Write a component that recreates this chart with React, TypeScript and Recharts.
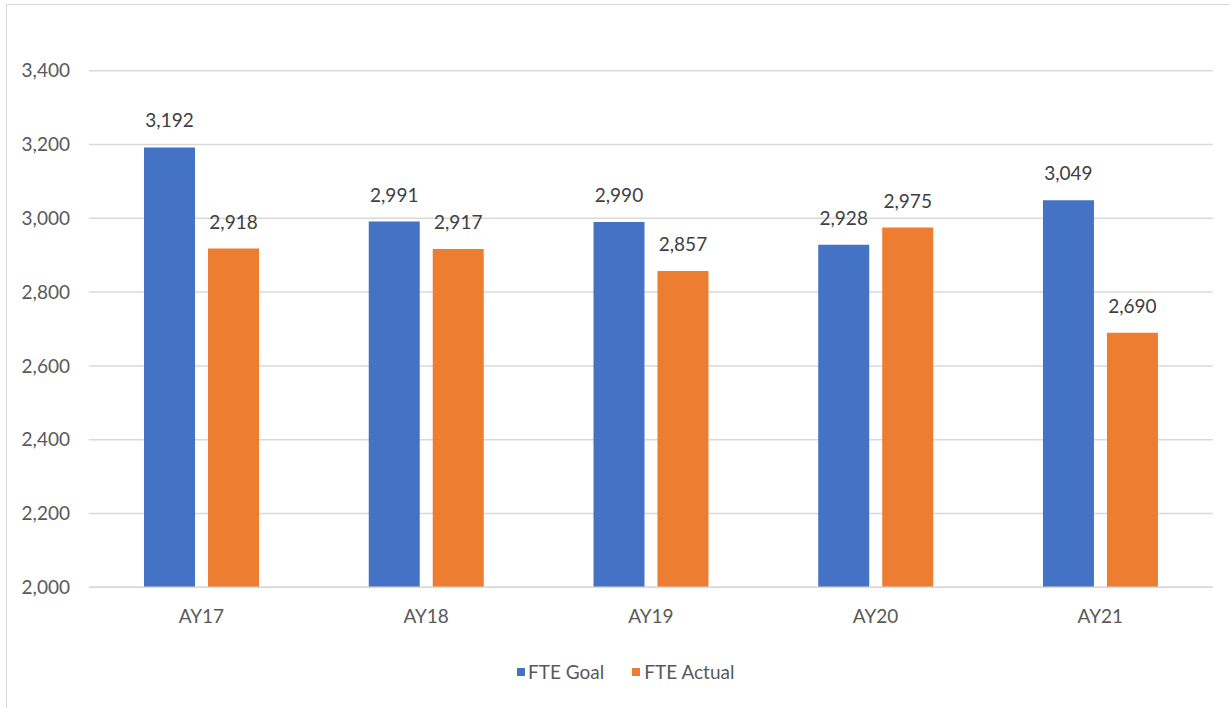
import React from 'react';
import { BarChart, Bar, XAxis, YAxis, CartesianGrid, Legend, LabelList } from 'recharts';

const categories = ['AY17', 'AY18', 'AY19', 'AY20', 'AY21'];
const fteGoal = [3192, 2991, 2990, 2928, 3049];
const fteActual = [2918, 2917, 2857, 2975, 2690];
const yTicks = [2000, 2200, 2400, 2600, 2800, 3000, 3200, 3400];

const data = categories.map((c, i) => ({ name: c, goal: fteGoal[i], actual: fteActual[i] }));

const FONT = 'Lato, "Liberation Sans", sans-serif';
const FS = 19;
const fmt = (v: number) => v.toLocaleString('en-US');

const LegendContent = () => (
  <div style={{ position: 'absolute', left: 517, top: 660, display: 'flex', alignItems: 'center', fontFamily: FONT, fontSize: FS, color: '#595959', whiteSpace: 'nowrap' }}>
    <span style={{ display: 'inline-block', width: 8, height: 8, background: '#4472C4', marginRight: 3 }} />
    <span style={{ marginRight: 28 }}>FTE Goal</span>
    <span style={{ display: 'inline-block', width: 8, height: 8, background: '#ED7D31', marginRight: 4 }} />
    <span>FTE Actual</span>
  </div>
);

export default function App() {
  return (
    <div style={{ position: 'absolute', left: 0, top: 0, width: 1230, height: 708, background: '#fff', overflow: 'hidden' }}>
      <div style={{ position: 'absolute', left: 6, top: 4, width: 1300, height: 800, borderTop: '1.5px solid #d9d9d9', borderLeft: '1.5px solid #d9d9d9' }} />
      <div style={{ position: 'absolute', left: 0, top: 0 }}>
        <BarChart
          width={1230}
          height={708}
          data={data}
          margin={{ top: 70.7, right: 17.3, left: 0, bottom: 90.7 }}
          barCategoryGap={55}
          barGap={13}
        >
          <CartesianGrid vertical={false} stroke="#d9d9d9" strokeWidth={1.5} />
          <XAxis
            dataKey="name"
            height={30}
            axisLine={{ stroke: '#d9d9d9', strokeWidth: 1.5 }}
            tickLine={false}
            tickSize={6}
            tickMargin={16}
            tick={{ fill: '#595959', fontSize: FS, fontFamily: FONT }}
          />
          <YAxis
            width={89}
            domain={[2000, 3400]}
            ticks={yTicks}
            interval={0}
            axisLine={false}
            tickLine={false}
            tickSize={6}
            tickMargin={13}
            tickFormatter={fmt}
            tick={{ fill: '#595959', fontSize: FS, fontFamily: FONT }}
          />
          <Legend verticalAlign="middle" content={<LegendContent />} wrapperStyle={{ top: 0, left: 0, width: 0, height: 0 }} />
          <Bar dataKey="goal" name="FTE Goal" fill="#4472C4" isAnimationActive={false}>
            <LabelList dataKey="goal" position="top" offset={20} formatter={(v: any) => fmt(Number(v))} style={{ fill: '#404040', fontSize: FS, fontFamily: FONT }} />
          </Bar>
          <Bar dataKey="actual" name="FTE Actual" fill="#ED7D31" isAnimationActive={false}>
            <LabelList dataKey="actual" position="top" offset={20} formatter={(v: any) => fmt(Number(v))} style={{ fill: '#404040', fontSize: FS, fontFamily: FONT }} />
          </Bar>
        </BarChart>
      </div>
    </div>
  );
}
